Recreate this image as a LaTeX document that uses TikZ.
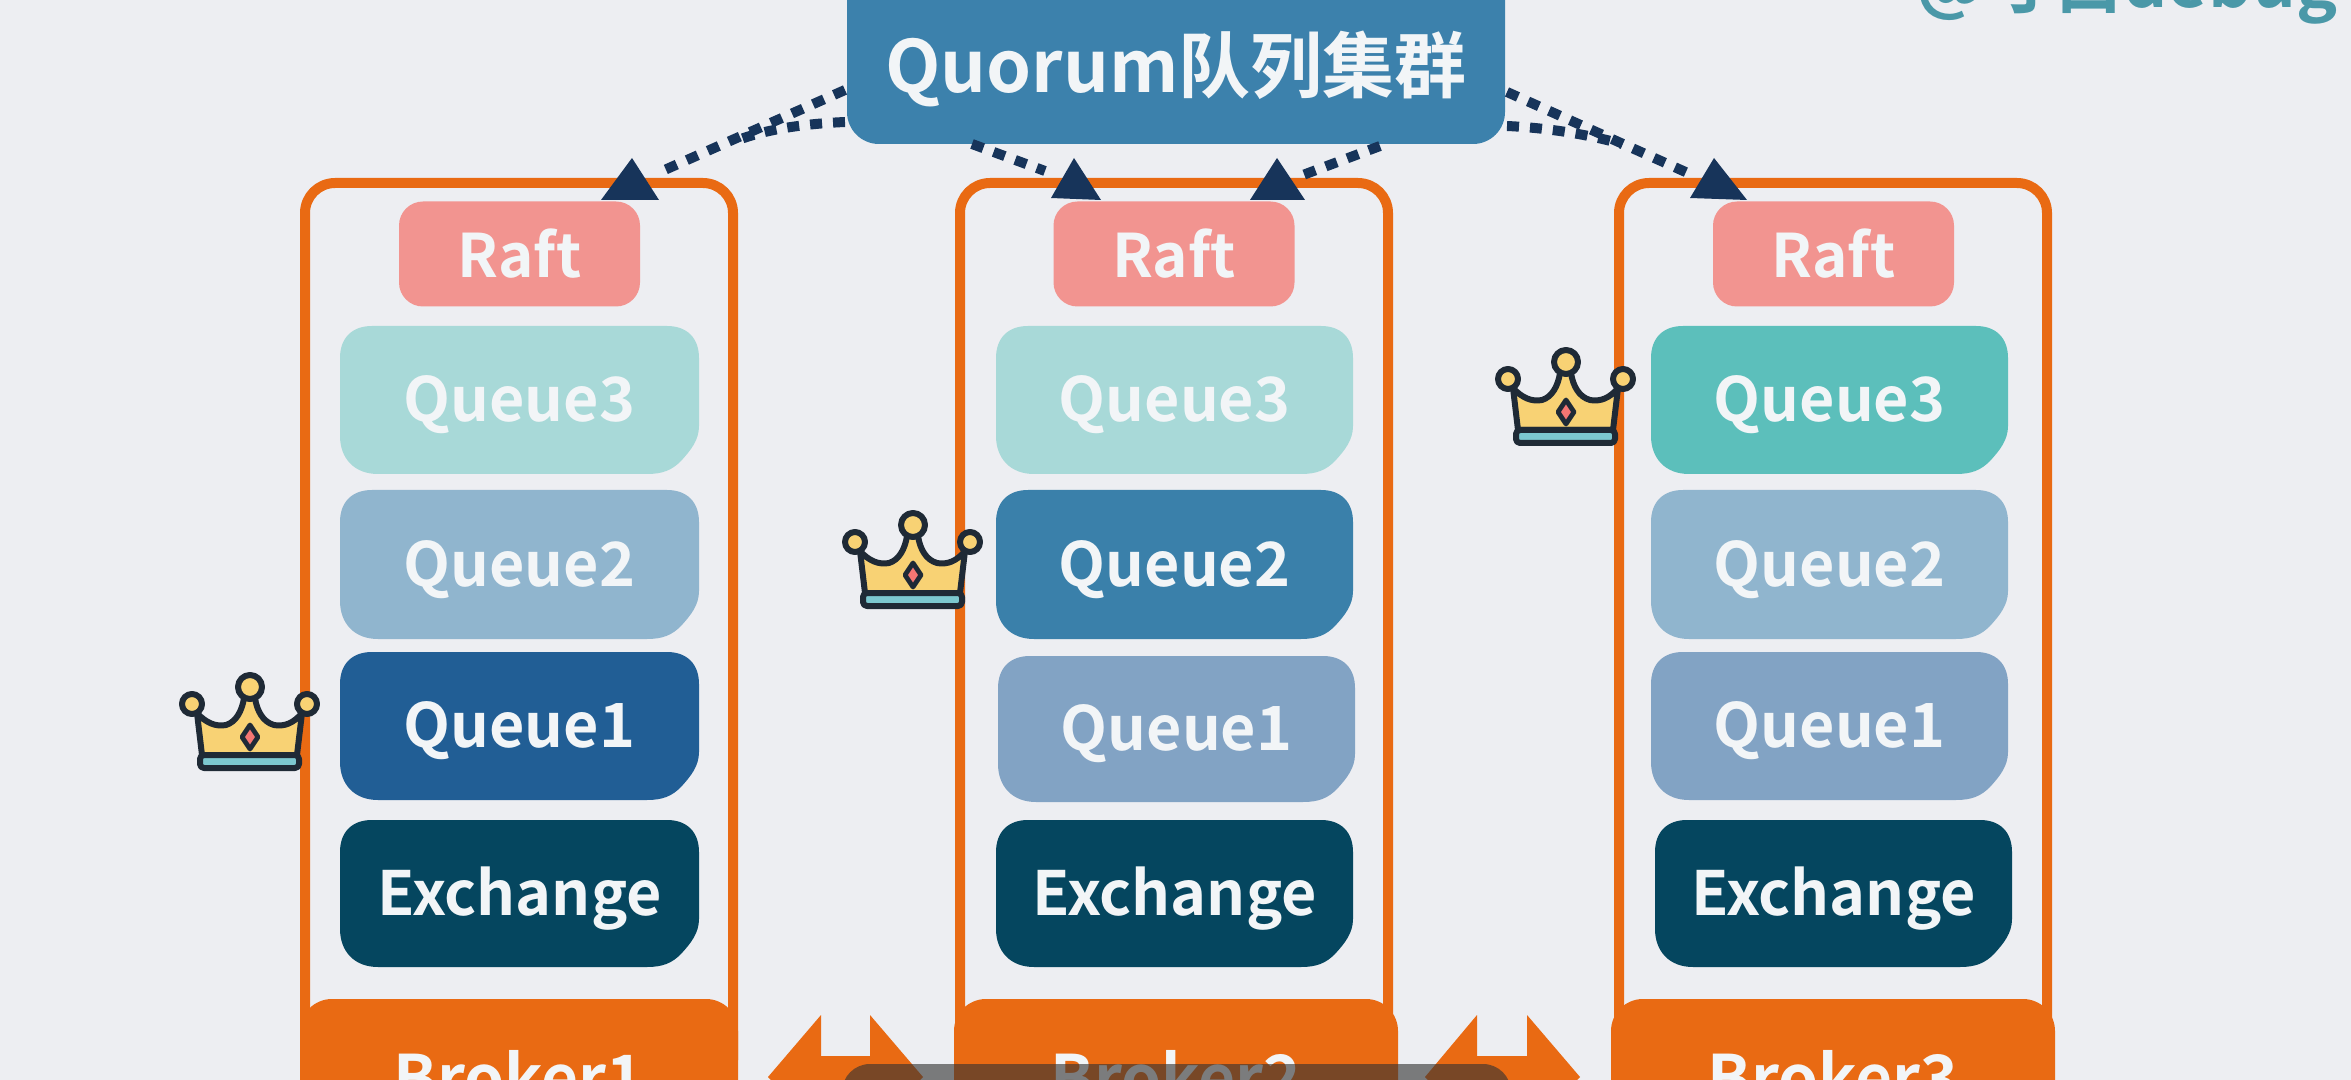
\documentclass[tikz,border=0pt]{standalone}
\usepackage{fontspec}
\setmainfont{Noto Sans CJK SC}[BoldFont=* Bold]
\usetikzlibrary{calc}
\definecolor{bgc}{HTML}{EDEEF2}
\definecolor{orangec}{HTML}{E96A13}
\definecolor{navyc}{HTML}{17345A}
\definecolor{topc}{HTML}{3C81AC}
\definecolor{raftc}{HTML}{F29490}
\definecolor{qa}{HTML}{5CBFBB}
\definecolor{qb}{HTML}{3A80AA}
\definecolor{qc}{HTML}{215E95}
\definecolor{qaf}{HTML}{A8D9D8}
\definecolor{qbf}{HTML}{90B5CE}
\definecolor{qcf}{HTML}{82A3C4}
\definecolor{exc}{HTML}{05465F}
\definecolor{crownc}{HTML}{F8D274}
\definecolor{crownl}{HTML}{1F2A36}
\definecolor{bandc}{HTML}{7CC8D0}
\definecolor{wmc}{HTML}{4A98A8}
\definecolor{txtc}{HTML}{F2F5F7}
\tikzset{
 x=0.5pt,y=-0.5pt,
 lab/.style={text=txtc,font=\fontsize{30.5}{30.5}\selectfont\bfseries,inner sep=0pt},
 rlab/.style={text=txtc,font=\fontsize{30}{30}\selectfont\bfseries,inner sep=0pt},
 link/.style={draw=navyc,line width=5pt,dash pattern=on 6pt off 5.5pt},
 tip/.style={fill=navyc},
 frame/.style={draw=orangec,line width=5pt,rounded corners=15pt},
 crownline/.style={draw=crownl,line width=3pt,line join=round},
}
% name x1 y1 x2 y2 colour text
\newcommand{\qbox}[7]{%
 \fill[#6] (#2+32,#3) -- (#4-32,#3) .. controls (#4-12,#3) and (#4,#3+12) .. (#4,#3+32)
  -- (#4,#5-48) .. controls (#4,#5-34) and (#4-8,#5-24) .. (#4-18,#5-13)
  .. controls (#4-27,#5-4) and (#4-36,#5) .. (#4-52,#5)
  -- (#2+38,#5) .. controls (#2+14,#5) and (#2,#5-16) .. (#2,#5-38)
  -- (#2,#3+32) .. controls (#2,#3+12) and (#2+12,#3) .. (#2+32,#3) -- cycle;
 \node[lab,minimum width={(#4-#2)*0.5pt},minimum height={(#5-#3)*0.5pt}] (#1) at ({(#2+#4)/2},{(#3+#5)/2+5}) {#7};}
\newcommand{\crownat}[2]{%
 \begin{scope}[shift={(#1,#2)}]
  \fill[crownc,crownline]
   (17,38) .. controls (26,48) and (36,52) .. (46,50) .. controls (56,47) and (62,36) .. (64,23)
   -- (75,23) .. controls (77,36) and (83,47) .. (94,50) .. controls (104,52) and (114,48) .. (122,38)
   -- (117,80) -- (22,80) -- cycle;
  \fill[bandc,crownline,rounded corners=2pt] (20,80) rectangle (119,93);
  \fill[crownc,crownline] (70,12) circle (12);
  \fill[crownc,crownline] (12,29) circle (10);
  \fill[crownc,crownline] (127,29) circle (10);
  \fill[raftc!80!red,draw=crownl,line width=2.4pt,line join=round] (70,50) -- (78,62) -- (70,74) -- (62,62) -- cycle;
 \end{scope}}
\newcommand{\broker}[3]{% name x1 x2
 \draw[frame] (#2+5,1060) -- (#2+5,183) -- (#3-5,183) -- (#3-5,1060);
}
\newcommand{\brokerbar}[4]{%
 \fill[orangec,rounded corners=16pt] (#2,999) rectangle (#3,1140);
 \node[text=txtc,font=\fontsize{32}{32}\selectfont\bfseries,inner sep=0pt] (#1) at ({(#2+#3)/2},1076) {#4};}
\begin{document}
\begin{tikzpicture}
\useasboundingbox (0,0) rectangle (2351,1080);
\clip (0,0) rectangle (2351,1080);
\fill[bgc] (0,0) rectangle (2351,1080);

% watermark
\node[text=wmc,font=\fontsize{34.5}{34.5}\selectfont\bfseries,inner sep=0pt,anchor=base east] (wm) at (2338,8) {@寸白debug};

% broker frames
\broker{f1}{300}{738}
\broker{f2}{955}{1393}
\broker{f3}{1614}{2052}
\brokerbar{b1}{300}{738}{Broker1}
\brokerbar{b2}{954}{1398}{Broker2}
\brokerbar{b3}{1611}{2055}{Broker3}

% double arrows
\fill[orangec] (768,1077) -- (821,1015) -- (821,1056) -- (870,1056) -- (870,1015) -- (923,1077) -- (900,1100) -- (790,1100) -- cycle;
\fill[orangec] (1425,1077) -- (1477,1015) -- (1477,1056) -- (1527,1056) -- (1527,1015) -- (1580,1077) -- (1557,1100) -- (1447,1100) -- cycle;

% column 1
\node[fill=raftc,rounded corners=12pt,rlab,minimum width=120.5pt,minimum height=52.5pt] (r1) at (519.5,254) {Raft};
\qbox{qA1}{340}{326}{699}{474}{qaf}{Queue3}
\qbox{qB1}{340}{490}{699}{639}{qbf}{Queue2}
\qbox{qC1}{340}{652}{699}{800}{qc}{Queue1}
\qbox{ex1}{340}{820}{699}{967}{exc}{Exchange}
% column 2
\node[fill=raftc,rounded corners=12pt,rlab,minimum width=120.5pt,minimum height=52.5pt] (r2) at (1174,254) {Raft};
\qbox{qA2}{996}{326}{1353}{474}{qaf}{Queue3}
\qbox{qB2}{996}{490}{1353}{639}{qb}{Queue2}
\qbox{qC2}{998}{656}{1355}{802}{qcf}{Queue1}
\qbox{ex2}{996}{820}{1353}{967}{exc}{Exchange}
% column 3
\node[fill=raftc,rounded corners=12pt,rlab,minimum width=120.5pt,minimum height=52.5pt] (r3) at (1833.5,254) {Raft};
\qbox{qA3}{1651}{326}{2008}{474}{qa}{Queue3}
\qbox{qB3}{1651}{490}{2008}{639}{qbf}{Queue2}
\qbox{qC3}{1651}{652}{2008}{800}{qcf}{Queue1}
\qbox{ex3}{1655}{820}{2012}{967}{exc}{Exchange}

% crowns
\crownat{180}{675}
\crownat{843}{513}
\crownat{1496}{350}

% top box
\fill[topc,rounded corners=16pt] (847,-40) rectangle (1505,144);
\node[text=txtc,font=\fontsize{36}{36}\selectfont\bfseries,inner sep=0pt] (top) at (1176,69) {Quorum队列集群};

% connectors
\coordinate (a1) at (632,158);
\coordinate (a2) at (1074,158);
\coordinate (a3) at (1277,158);
\coordinate (a4) at (1714,158);
\draw[link] (845,90) -- (660,172);
\draw[link] (845,122) .. controls (800,124) and (765,130) .. (738,140);
\draw[link] (972,144) -- (1045,171);
\draw[link] (1380,146) -- (1295,178);
\draw[link] (1507,92) -- (1690,174);
\draw[link] (1507,126) .. controls (1550,128) and (1590,135) .. (1622,144);
\fill[tip] (a1) -- (659,200) -- (601,200) -- cycle;
\fill[tip] (a2) -- (1101,200) -- (1051,198) -- cycle;
\fill[tip] (a3) -- (1305,200) -- (1250,200) -- cycle;
\fill[tip] (a4) -- (1747,200) -- (1690,198) -- cycle;

% caption bar
\fill[black!80,opacity=.62,rounded corners=14pt] (842,1064) rectangle (1511,1140);
\end{tikzpicture}
\end{document}
